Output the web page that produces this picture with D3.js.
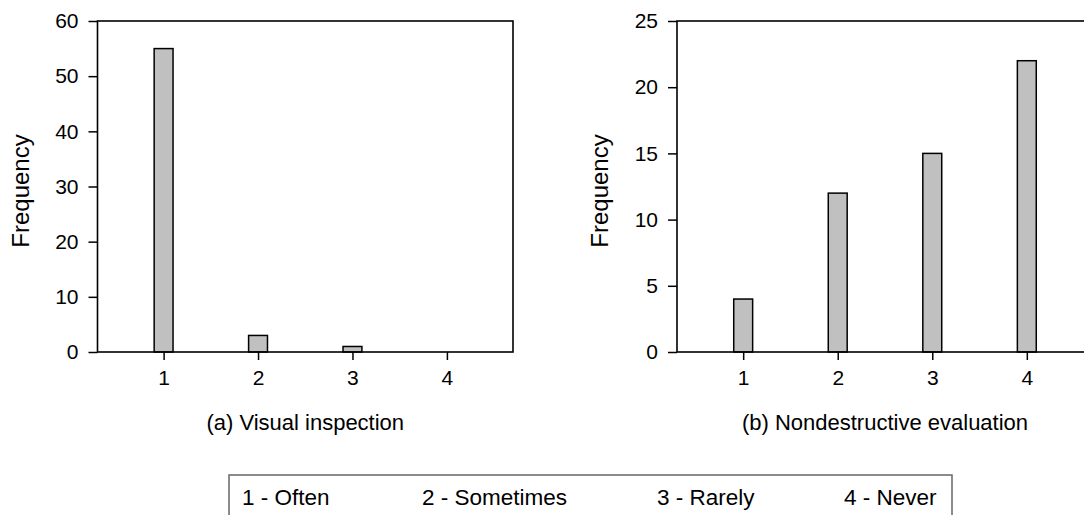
<!DOCTYPE html>
<html>
<head>
<meta charset="utf-8">
<script src="https://cdn.jsdelivr.net/npm/d3@7"></script>
<style>
  body { margin: 0; background: #fff; }
  svg { display: block; font-family: Arial, "Liberation Sans", sans-serif; }
</style>
</head>
<body>
<svg id="chart" width="1084" height="515"></svg>
<script>
// data
const categories = [1, 2, 3, 4];
const visualFreq = [55, 3, 1, 0];
const ndeFreq = [4, 12, 15, 22];
const visualTicks = [0, 10, 20, 30, 40, 50, 60];
const ndeTicks = [0, 5, 10, 15, 20, 25];
const legendLabels = ['1 - Often', '2 - Sometimes', '3 - Rarely', '4 - Never'];

const svg = d3.select('#chart');
const FONT = 'Arial, "Liberation Sans", sans-serif';

function panel(opts) {
  const { left, right, top, bottom, values, yMax, ticks, title, yLabelX } = opts;
  const x = d3.scaleLinear().domain([0.3, 4.7]).range([left, right]);
  const y = d3.scaleLinear().domain([0, yMax]).range([bottom, top]);
  const g = svg.append('g');

  // bars, 0.2 category units wide
  g.selectAll('rect.bar').data(categories).join('rect')
    .attr('class', 'bar')
    .attr('x', d => x(d - 0.1))
    .attr('width', x(1.2) - x(1))
    .attr('y', (d, i) => y(values[i]))
    .attr('height', (d, i) => y(0) - y(values[i]))
    .attr('fill', '#c0c0c0').attr('stroke', '#000').attr('stroke-width', 1.5);

  const ya = g.append('g').attr('transform', `translate(${left},0)`)
    .call(d3.axisLeft(y).tickValues(ticks).tickFormat(d3.format('d')).tickSize(9).tickPadding(10));
  const xa = g.append('g').attr('transform', `translate(0,${bottom})`)
    .call(d3.axisBottom(x).tickValues(categories).tickFormat(d3.format('d')).tickSize(8).tickPadding(10));
  [ya, xa].forEach(a => {
    a.select('.domain').remove();
    a.selectAll('line').attr('stroke', '#000').attr('stroke-width', 1.5);
    a.selectAll('text').attr('font-size', 21).attr('fill', '#000').attr('font-family', FONT);
  });

  // frame round the plot
  g.append('rect').attr('x', left).attr('y', top)
    .attr('width', right - left).attr('height', bottom - top)
    .attr('fill', 'none').attr('stroke', '#000').attr('stroke-width', 1.6);

  g.append('text').attr('transform', `translate(${yLabelX},191) rotate(-90)`)
    .attr('text-anchor', 'middle').attr('font-size', 24).text('Frequency');
  g.append('text').attr('x', (left + right) / 2).attr('y', 430)
    .attr('text-anchor', 'middle').attr('font-size', 22).text(title);
}

panel({ left: 97.5, right: 513, top: 21, bottom: 352, values: visualFreq, yMax: 60,
  ticks: visualTicks, title: '(a) Visual inspection', yLabelX: 29 });
panel({ left: 677, right: 1093, top: 21, bottom: 352, values: ndeFreq, yMax: 25,
  ticks: ndeTicks, title: '(b) Nondestructive evaluation', yLabelX: 608 });

// legend box (runs off the bottom of the picture)
svg.append('rect').attr('x', 229).attr('y', 475).attr('width', 723).attr('height', 60)
  .attr('fill', 'none').attr('stroke', '#666').attr('stroke-width', 1.5);
const legX = [242, 422, 657, 844];
svg.selectAll('text.leg').data(legendLabels).join('text')
  .attr('class', 'leg')
  .attr('x', (d, i) => legX[i]).attr('y', 505)
  .attr('font-size', 22.5).text(d => d);
</script>
</body>
</html>
